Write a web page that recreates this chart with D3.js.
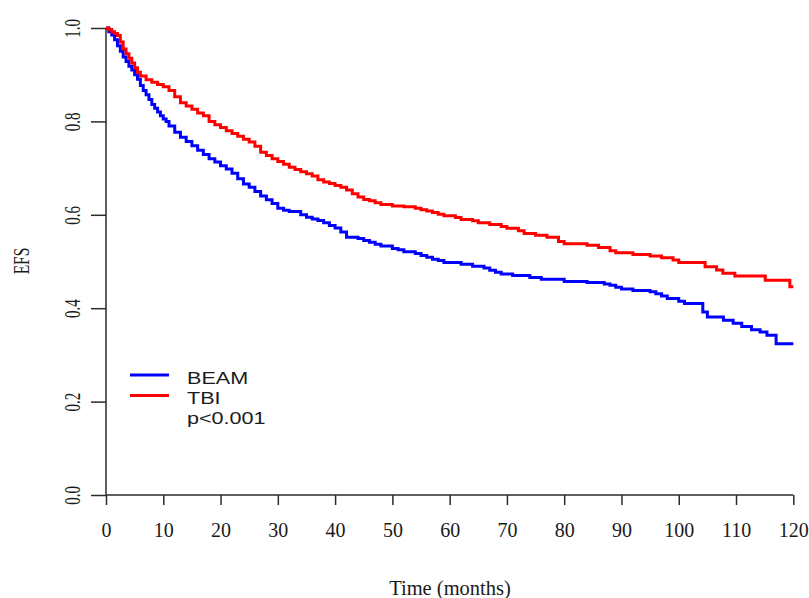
<!DOCTYPE html>
<html>
<head>
<meta charset="utf-8">
<script src="https://cdn.jsdelivr.net/npm/d3@7"></script>
<style>
  html, body { margin: 0; padding: 0; background: #fff; }
  svg { display: block; }
</style>
</head>
<body>
<svg id="chart" width="809" height="598"></svg>
<script>
// Kaplan-Meier event-free survival, BEAM vs TBI conditioning
const beamTimes = [0, 0.5, 1, 1.5, 2, 2.5, 3, 3.5, 4, 4.5, 5, 5.5, 6, 6.5, 7, 7.5, 8, 8.5, 9, 9.5, 10, 10.5, 11, 12, 13, 14, 15, 16, 17, 18, 19, 20, 21, 22, 23, 24, 25, 26, 27, 28, 29, 30, 31, 32, 34, 35, 36, 37, 38, 39, 40, 41, 42, 44, 45, 46, 47, 48, 50, 51, 52, 54, 55, 56, 57, 58, 59, 62, 64, 66, 67, 68, 69, 71, 74, 76, 80, 84, 87, 88, 89, 90, 92, 95, 96, 97, 98, 100, 101, 104.2, 105, 107.8, 109.5, 111, 112.7, 114.2, 115.4, 117, 120];
const beamSurv  = [1.000, 0.992, 0.985, 0.975, 0.962, 0.950, 0.938, 0.928, 0.918, 0.910, 0.900, 0.890, 0.877, 0.866, 0.857, 0.847, 0.836, 0.828, 0.820, 0.812, 0.805, 0.800, 0.790, 0.777, 0.766, 0.757, 0.748, 0.738, 0.729, 0.720, 0.713, 0.705, 0.698, 0.689, 0.677, 0.666, 0.659, 0.650, 0.640, 0.632, 0.624, 0.614, 0.610, 0.607, 0.600, 0.595, 0.591, 0.588, 0.583, 0.577, 0.572, 0.563, 0.552, 0.549, 0.545, 0.541, 0.537, 0.533, 0.528, 0.525, 0.521, 0.517, 0.513, 0.509, 0.505, 0.502, 0.498, 0.494, 0.490, 0.486, 0.481, 0.477, 0.473, 0.470, 0.466, 0.462, 0.457, 0.455, 0.452, 0.449, 0.445, 0.441, 0.438, 0.435, 0.431, 0.426, 0.421, 0.415, 0.410, 0.392, 0.381, 0.374, 0.368, 0.361, 0.354, 0.349, 0.342, 0.324, 0.324];

const tbiTimes = [0, 0.5, 1, 1.5, 2, 2.5, 3, 3.5, 4, 4.5, 5, 5.5, 6, 7, 8, 9, 10, 11, 12, 13, 14, 15, 16, 17, 18, 19, 20, 21, 22, 23, 24, 25, 26, 27, 28, 29, 30, 31, 32, 33, 34, 35, 36, 37, 38, 39, 40, 41, 42, 43, 44, 45, 46, 47, 48, 50, 52, 54, 55, 56, 57, 58, 59, 61, 62, 64, 65, 67, 69, 70, 72, 73, 75, 77, 79, 80, 84, 86, 88, 89, 92, 95, 97, 99, 100, 104.6, 106.6, 107.7, 109.8, 115.1, 119.4, 120];
const tbiSurv  = [1.000, 0.997, 0.992, 0.988, 0.984, 0.970, 0.955, 0.945, 0.935, 0.925, 0.915, 0.905, 0.897, 0.889, 0.884, 0.879, 0.874, 0.866, 0.853, 0.840, 0.833, 0.826, 0.818, 0.812, 0.800, 0.793, 0.787, 0.780, 0.774, 0.768, 0.762, 0.756, 0.747, 0.734, 0.727, 0.720, 0.714, 0.708, 0.702, 0.697, 0.692, 0.688, 0.683, 0.675, 0.670, 0.667, 0.663, 0.659, 0.653, 0.645, 0.638, 0.633, 0.630, 0.626, 0.622, 0.619, 0.617, 0.614, 0.611, 0.608, 0.605, 0.601, 0.598, 0.594, 0.590, 0.587, 0.583, 0.579, 0.575, 0.571, 0.566, 0.560, 0.556, 0.552, 0.543, 0.538, 0.535, 0.530, 0.523, 0.519, 0.515, 0.512, 0.508, 0.503, 0.498, 0.489, 0.482, 0.475, 0.469, 0.460, 0.446, 0.446];

const xTicks = [0, 10, 20, 30, 40, 50, 60, 70, 80, 90, 100, 110, 120];
const yTicks = [0.0, 0.2, 0.4, 0.6, 0.8, 1.0];

const groups = [
  { name: "BEAM", color: "#0000ff", times: beamTimes, surv: beamSurv },
  { name: "TBI",  color: "#ff0000", times: tbiTimes,  surv: tbiSurv }
];
const pValueText = "p<0.001";

const svg = d3.select("#chart");
const x = d3.scaleLinear().domain([0, 120]).range([106, 793.3]);
const y = d3.scaleLinear().domain([0, 1]).range([495, 28]);

const axisColor = "#2b2b2b";
const textColor = "#1a1a1a";
const serif = "'Liberation Serif', 'Times New Roman', serif";
const sans = "'Liberation Sans', Arial, sans-serif";

// x axis (ticks hang below the baseline)
const xAxis = svg.append("g")
  .attr("transform", `translate(0,${y(0)})`)
  .call(d3.axisBottom(x).tickValues(xTicks).tickSize(10).tickPadding(20).tickFormat(d3.format("d")));
xAxis.select(".domain").attr("d", `M${x(0)},0H${x(120)}`);
xAxis.selectAll("line, .domain").attr("stroke", axisColor).attr("stroke-width", 1.5);
xAxis.selectAll("text")
  .attr("font-family", serif).attr("font-size", 20).attr("fill", textColor)
  .attr("dy", null).attr("y", 42);

// y axis with rotated labels
const yAxis = svg.append("g")
  .attr("transform", `translate(${x(0)},0)`)
  .call(d3.axisLeft(y).tickValues(yTicks).tickSize(15).tickFormat(d3.format(".1f")));
yAxis.select(".domain").attr("d", `M0,${y(1)}V${y(0)}`);
yAxis.selectAll("line, .domain").attr("stroke", axisColor).attr("stroke-width", 1.5);
yAxis.selectAll(".tick text")
  .attr("font-family", serif).attr("font-size", 15).attr("fill", textColor)
  .attr("x", null).attr("dy", null)
  .attr("text-anchor", "middle")
  .attr("transform", "translate(-26,0) scale(1.5,1) rotate(-90)");

// axis titles
svg.append("text")
  .attr("x", 450).attr("y", 595)
  .attr("text-anchor", "middle")
  .attr("font-family", serif).attr("font-size", 20.5).attr("fill", textColor)
  .text("Time (months)");
svg.append("text")
  .attr("text-anchor", "middle")
  .attr("transform", "translate(29,261) scale(1.5,1) rotate(-90)")
  .attr("font-family", serif).attr("font-size", 15.5).attr("fill", textColor)
  .text("EFS");

// survival step curves
const line = d3.line()
  .x(d => x(d[0]))
  .y(d => y(d[1]))
  .curve(d3.curveStepAfter);

svg.append("g").selectAll("path")
  .data(groups)
  .join("path")
  .attr("fill", "none")
  .attr("stroke", d => d.color)
  .attr("stroke-width", 3)
  .attr("stroke-linejoin", "miter")
  .attr("d", d => line(d.times.map((t, i) => [t, d.surv[i]])));

// legend
const legend = svg.append("g");
groups.forEach((g, i) => {
  legend.append("line")
    .attr("x1", 130).attr("x2", 169)
    .attr("y1", 375 + i * 20.5).attr("y2", 375 + i * 20.5)
    .attr("stroke", g.color).attr("stroke-width", 3);
  legend.append("text")
    .attr("transform", `translate(187,${384 + i * 20}) scale(1.27,1)`)
    .attr("font-family", sans).attr("font-size", 17).attr("fill", textColor)
    .text(g.name);
});
legend.append("text")
  .attr("transform", "translate(187,424) scale(1.27,1)")
  .attr("font-family", sans).attr("font-size", 17).attr("fill", textColor)
  .text(pValueText);
</script>
</body>
</html>
